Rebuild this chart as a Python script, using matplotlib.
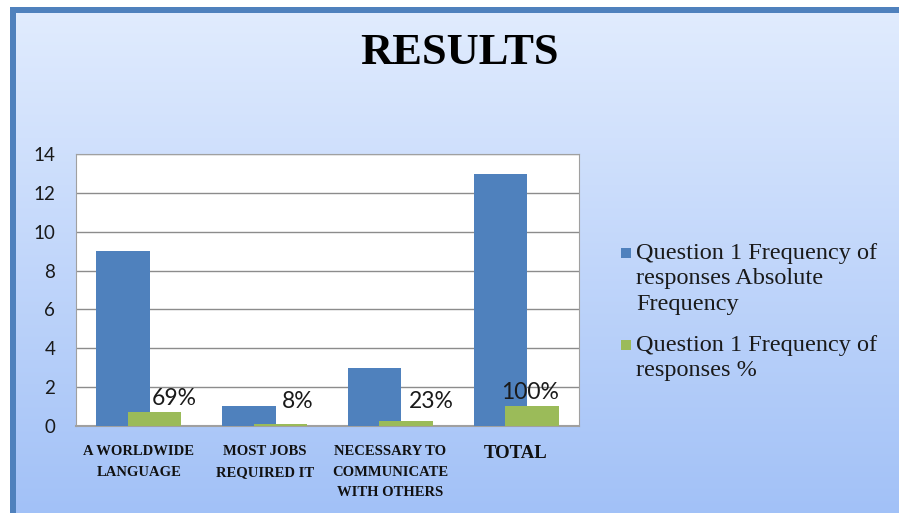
import numpy as np
import matplotlib
matplotlib.use('Agg')
import matplotlib.pyplot as plt
from matplotlib.patches import Rectangle

categories = ['A WORLDWIDE\nLANGUAGE', 'MOST JOBS\nREQUIRED IT',
              'NECESSARY TO\nCOMMUNICATE\nWITH OTHERS', 'TOTAL']
absolute = [9, 1, 3, 13]
percent = [0.69, 0.08, 0.23, 1.00]
percent_labels = ['69%', '8%', '23%', '100%']
series_names = ['Question 1 Frequency of\nresponses Absolute\nFrequency',
                'Question 1 Frequency of\nresponses %']

blue = '#4F81BD'
green = '#9BBB59'
W, H = 899, 513

fig = plt.figure(figsize=(W / 100, H / 100), dpi=100)

# background: white margin, gradient panel, blue frame
bg = fig.add_axes([0, 0, 1, 1], zorder=-10)
bg.set_xlim(0, W)
bg.set_ylim(H, 0)
bg.axis('off')
grad = np.linspace(0, 1, 256).reshape(-1, 1)
top_c = np.array([0.882, 0.925, 0.996])
bot_c = np.array([0.635, 0.757, 0.969])
img = top_c + (bot_c - top_c) * grad[..., None]
bg.imshow(img, extent=(12, W, H, 10), aspect='auto', interpolation='bilinear')
bg.add_patch(Rectangle((10, 7), W, 5.5, color=blue, lw=0))
bg.add_patch(Rectangle((10, 7), 5.5, H, color=blue, lw=0))

fig.text(459, H - 53, 'RESULTS', transform=None, ha='center', va='center',
         fontsize=32, fontweight='bold', family='Liberation Serif')

ax = fig.add_axes([76 / W, 1 - 425.7 / H, 503 / W, 271.4 / H])
ax.set_facecolor('white')
x = np.arange(len(categories))
bw = 0.425
ax.bar(x - 0.125, absolute, bw, color=blue, zorder=3)
ax.bar(x + 0.125, percent, bw, color=green, zorder=4)

label_dx = [20, 17, 25, -2]
label_dy = [7, 16, 13, 7]
for xi, v, lab, dx, dy in zip(x, percent, percent_labels, label_dx, label_dy):
    ax.annotate(lab, (xi + 0.125, v), xytext=(dx * 0.72, dy * 0.72),
                textcoords='offset points', ha='center', va='baseline',
                fontsize=16.5, family='Lato', color='#1a1a1a', zorder=5)

ax.set_xlim(-0.5, len(categories) - 0.5)
ax.set_ylim(0, 14)
ax.set_yticks(range(0, 15, 2))
ax.yaxis.grid(True, color='#8c8c8c', lw=1, zorder=0)
ax.tick_params(axis='y', length=0, pad=15, labelsize=13.5, labelcolor='#1a1a1a')
for t in ax.get_yticklabels():
    t.set_family('Lato')
ax.set_xticks(x)
ax.set_xticklabels(categories, family='Liberation Serif', fontweight='bold',
                   fontsize=10.5, linespacing=1.75, va='top', color='#111111')
ax.get_xticklabels()[-1].set_fontsize(13.5)
ax.tick_params(axis='x', length=0, pad=14)
for s in ax.spines.values():
    s.set_color('#a0a0a0')
ax.spines['bottom'].set_linewidth(1.5)

# legend drawn at the right of the plot
leg_y = [243, 335]
for name, col, y in zip(series_names, [blue, green], leg_y):
    bg.add_patch(Rectangle((621, y + 5), 10, 10, color=col, lw=0))
    bg.text(636, y, name, ha='left', va='top', fontsize=17.5,
            family='Liberation Serif', color='#1a1a1a', linespacing=1.27)

fig.savefig('out.png', dpi=100)
